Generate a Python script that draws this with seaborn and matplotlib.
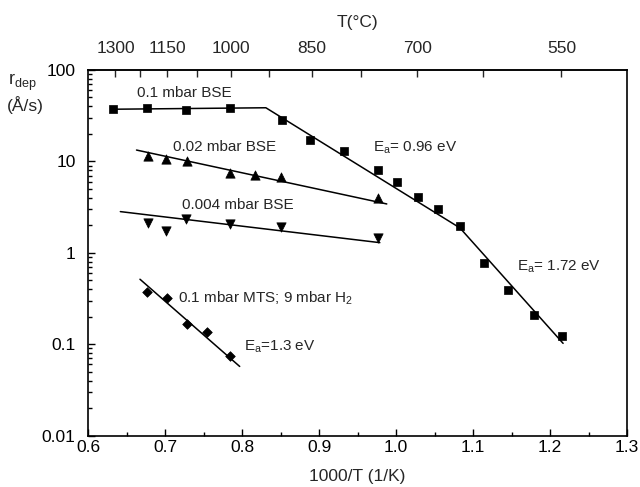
import numpy as np
import pandas as pd
import seaborn as sns
import matplotlib.pyplot as plt
from matplotlib.ticker import FixedLocator, FuncFormatter, LogLocator, NullFormatter

# measured points, x = 1000/T (1/K), r = deposition rate (A/s)
bse01_x = [0.633, 0.677, 0.727, 0.784, 0.852, 0.888, 0.932, 0.977, 1.001, 1.028,
           1.055, 1.083, 1.114, 1.146, 1.179, 1.215]
bse01_r = [37.2, 38.1, 36.5, 38.7, 28.4, 17.1, 13.1, 8.0, 5.9, 4.1,
           3.0, 1.98, 0.78, 0.39, 0.21, 0.123]

bse002_x = [0.678, 0.701, 0.728, 0.784, 0.817, 0.851, 0.977]
bse002_r = [11.5, 10.7, 10.2, 7.4, 7.1, 6.8, 4.0]

bse0004_x = [0.678, 0.701, 0.727, 0.784, 0.851, 0.977]
bse0004_r = [2.13, 1.73, 2.34, 2.05, 1.93, 1.46]

mts_x = [0.676, 0.703, 0.728, 0.755, 0.784]
mts_r = [0.375, 0.318, 0.166, 0.135, 0.074]

# fitted lines (end / break points)
fit_bse01_x = [0.633, 0.831, 1.083, 1.217]
fit_bse01_r = [37.2, 38.6, 1.87, 0.102]
fit_bse002_x = [0.663, 0.988]
fit_bse002_r = [13.3, 3.42]
fit_bse0004_x = [0.642, 0.979]
fit_bse0004_r = [2.82, 1.29]
fit_mts_x = [0.6675, 0.797]
fit_mts_r = [0.513, 0.057]

top_labels_c = [1300, 1150, 1000, 850, 700, 550]
top_minor_c = [1225, 1075, 925, 775, 625]

sns.set_style('ticks')
plt.rcParams['font.family'] = ['Liberation Sans', 'DejaVu Sans']
plt.rcParams['mathtext.fontset'] = 'custom'
plt.rcParams['mathtext.rm'] = 'Liberation Sans'
plt.rcParams['mathtext.it'] = 'Liberation Sans:italic'

fig = plt.figure(figsize=(6.4, 4.87), dpi=100)
ax = fig.add_axes([0.1375, 0.1057, 0.8422, 0.7506])

series = [
    (bse01_x, bse01_r, 's', 32),
    (bse002_x, bse002_r, '^', 45),
    (bse0004_x, bse0004_r, 'v', 45),
    (mts_x, mts_r, 'D', 24),
]
for xs, rs, mk, size in series:
    sns.scatterplot(x=xs, y=rs, marker=mk, s=size, color='black',
                    edgecolor='black', linewidth=0.5, ax=ax, zorder=3)

fits = [(fit_bse01_x, fit_bse01_r), (fit_bse002_x, fit_bse002_r),
        (fit_bse0004_x, fit_bse0004_r), (fit_mts_x, fit_mts_r)]
for fx, fr in fits:
    sns.lineplot(x=fx, y=fr, sort=False, estimator=None, color='black',
                 linewidth=1.1, ax=ax)

ax.set_yscale('log')
ax.set_xlim(0.6, 1.3)
ax.set_ylim(0.01, 100)

ax.xaxis.set_major_locator(FixedLocator(np.arange(0.6, 1.31, 0.1)))
ax.xaxis.set_minor_locator(FixedLocator(np.arange(0.65, 1.3, 0.1)))
ax.xaxis.set_major_formatter(FuncFormatter(lambda v, p: f'{v:.1f}'))
ax.yaxis.set_major_locator(LogLocator(base=10, numticks=10))
ax.yaxis.set_minor_locator(LogLocator(base=10, subs=np.arange(2, 10), numticks=10))
ax.yaxis.set_major_formatter(FuncFormatter(lambda v, p: f'{v:g}'))
ax.yaxis.set_minor_formatter(NullFormatter())

ax.tick_params(which='both', direction='in', labelsize=12.5, width=1.0,
               colors='black')
ax.tick_params(which='major', length=5)
ax.tick_params(which='minor', length=3)
ax.tick_params(axis='y', which='major', pad=9)
for sp in ax.spines.values():
    sp.set_linewidth(1.2)
    sp.set_color('black')

ax.set_xlabel('1000/T (1/K)', fontsize=12.5, labelpad=10)
ax.set_ylabel('')

# top axis in degrees C
top = ax.secondary_xaxis('top', functions=(lambda v: 1000.0 / v - 273.15,
                                          lambda c: 1000.0 / (c + 273.15)))
top.set_xticks(top_labels_c)
top.set_xticks(top_minor_c, minor=True)
top.set_xticklabels([str(c) for c in top_labels_c])
top.tick_params(which='both', direction='in', labelsize=12.5, width=1.0)
top.tick_params(which='major', length=5, pad=10)
top.tick_params(which='minor', length=5)
top.spines['top'].set_linewidth(1.2)
top.set_xlabel('T(°C)', fontsize=12.5, labelpad=10)

# y axis label in the corner
fig.text(0.012, 0.83, r'r$_\mathregular{dep}$', fontsize=13, va='center')
fig.text(0.010, 0.784, '(Å/s)', fontsize=12.5, va='center')

kw = dict(fontsize=11, va='center', ha='left')
ax.text(0.663, 55.6, '0.1 mbar BSE', **kw)
ax.text(0.711, 14.3, '0.02 mbar BSE', **kw)
ax.text(0.722, 3.33, '0.004 mbar BSE', **kw)
ax.text(0.717, 0.318, r'0.1 mbar MTS; 9 mbar H$_\mathregular{2}$', **kw)
ax.text(0.802, 0.094, r'E$_\mathregular{a}$=1.3 eV', **kw)
ax.text(0.970, 14.0, r'E$_\mathregular{a}$= 0.96 eV', **kw)
ax.text(1.157, 0.705, r'E$_\mathregular{a}$= 1.72 eV', **kw)

fig.savefig('out.png', dpi=100)
